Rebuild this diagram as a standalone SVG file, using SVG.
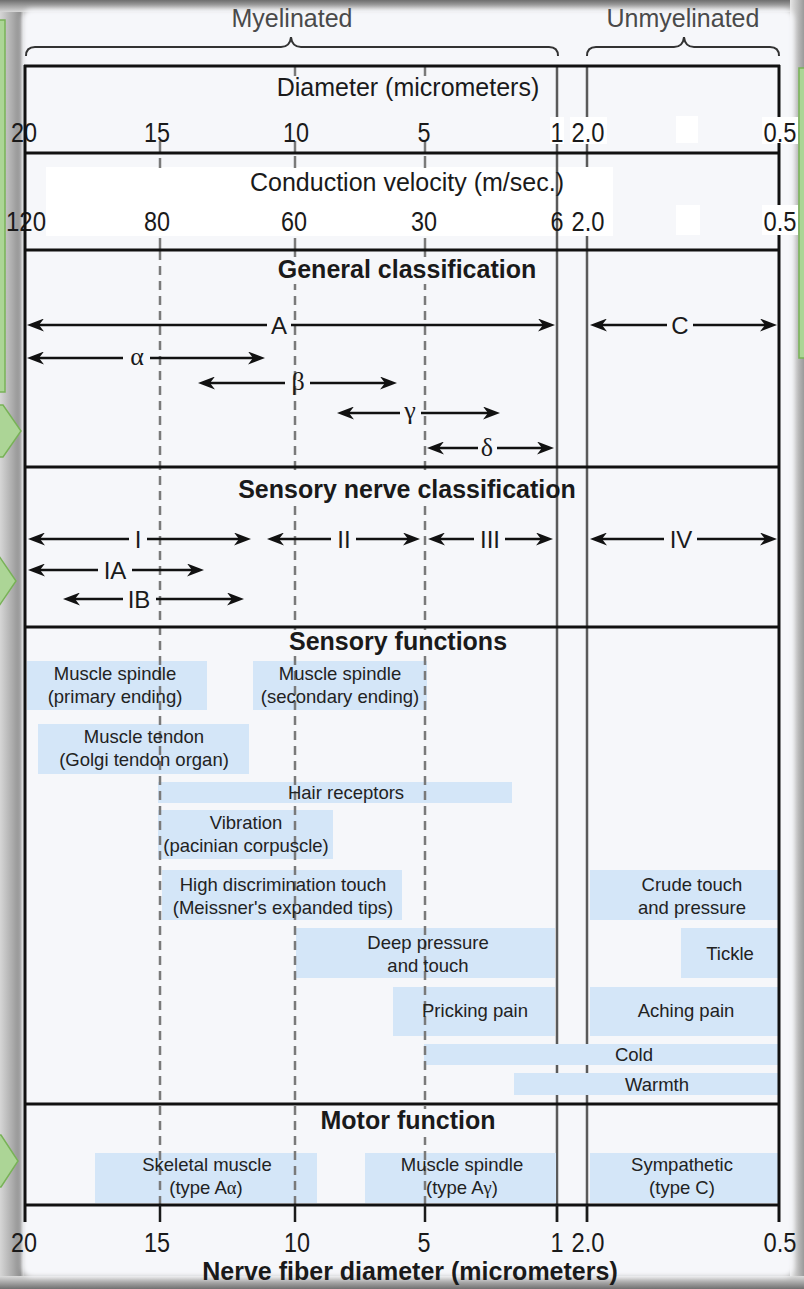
<svg xmlns="http://www.w3.org/2000/svg" width="804" height="1289" viewBox="0 0 804 1289">
<defs>
<style>
.t{font-family:"Liberation Sans",Arial,sans-serif;fill:#1a1a1a}
.num{font-size:28px;text-anchor:middle}
.hd{font-size:25px;text-anchor:middle}
.my{font-size:25px;text-anchor:middle;fill:#4a4a4a}
.ttl{font-size:25px;font-weight:bold;text-anchor:middle}
.lab{font-size:24px;text-anchor:middle}
.gr{font-family:"Liberation Serif","DejaVu Serif",serif;font-size:26px;text-anchor:middle;fill:#1a1a1a}
.bt{font-size:18.5px;text-anchor:middle;fill:#222}
.box{fill:#d4e6f8}
.frm{stroke:#111;stroke-width:3;fill:none}
.sol{stroke:#5a5a5a;stroke-width:2.5}
.dsh{stroke:#7a7a7a;stroke-width:2.5;stroke-dasharray:9 6}
.tk{stroke:#7a7a7a;stroke-width:2.5}
.btk{stroke:#1a1a1a;stroke-width:2.5}
.arr{stroke:#111;stroke-width:2.5;fill:none;marker-end:url(#ah)}
.wb{fill:#fff}
.bg{fill:#f6f7fa}
.grn{fill:#acd596;stroke:#78b257;stroke-width:1.5}
.brace{fill:none;stroke:#333;stroke-width:2}
</style>
<marker id="ah" viewBox="0 0 17 13" refX="9" refY="6.5" markerWidth="17" markerHeight="13" orient="auto" markerUnits="userSpaceOnUse"><path d="M0,0 L17,6.5 L0,13 L5,6.5 Z" fill="#111"/></marker>
<linearGradient id="gL" x1="0" y1="0" x2="1" y2="0"><stop offset="0" stop-color="#d6d6d6"/><stop offset="0.55" stop-color="#a9a9a9"/><stop offset="0.85" stop-color="#8e8e8e"/><stop offset="1" stop-color="#c8c8c8"/></linearGradient>
<linearGradient id="gR" x1="0" y1="0" x2="1" y2="0"><stop offset="0" stop-color="#e6e6e6"/><stop offset="1" stop-color="#9a9a9a"/></linearGradient>
<linearGradient id="gT" x1="0" y1="0" x2="0" y2="1"><stop offset="0" stop-color="#6e6e6e"/><stop offset="1" stop-color="#d8d8d8"/></linearGradient>
<linearGradient id="gB" x1="0" y1="0" x2="0" y2="1"><stop offset="0" stop-color="#dcdcdc"/><stop offset="1" stop-color="#707070"/></linearGradient>
<filter id="soft" x="-5%" y="-5%" width="110%" height="110%"><feGaussianBlur stdDeviation="2.5"/></filter>
</defs>

<g id="background">
<rect width="804" height="1289" fill="#b4b4b4"/>
<rect x="0" y="0" width="24" height="1289" fill="url(#gL)"/>
<rect x="0" y="0" width="804" height="12" fill="url(#gT)"/>
<rect x="790" y="0" width="14" height="1289" fill="url(#gR)"/>
<rect x="0" y="1276" width="804" height="13" fill="url(#gB)"/>
<rect x="22" y="9" width="772" height="1268" rx="10" fill="#f6f7fa" filter="url(#soft)"/>
</g>

<g id="decor">
<rect class="grn" x="-10" y="20" width="15" height="372"/>
<rect class="grn" x="799" y="68" width="15" height="290"/>
<polygon class="grn" points="-10,405 3,405 21,431 3,457 -10,457"/>
<polygon class="grn" points="-10,556 -1,556 16,581 -1,606 -10,606"/>
<polygon class="grn" points="-10,1135 1,1135 18,1161 1,1187 -10,1187"/>
</g>

<g id="header">
<path class="brace" d="M26,56 Q26,47 35,47 L281,47 Q290,47 291,37 Q292,47 301,47 L549,47 Q558,47 558,56"/>
<path class="brace" d="M587,56 Q587,47 596,47 L674,47 Q683,47 684,37 Q685,47 694,47 L770,47 Q779,47 779,56"/>
<text class="t my" x="292" y="27">Myelinated</text>
<text class="t my" x="683" y="27">Unmyelinated</text>
</g>

<g id="white-patches">
<rect class="wb" x="46" y="167" width="567" height="69"/>
<rect class="wb" x="676" y="116" width="22" height="27"/>
<rect class="wb" x="676" y="205" width="24" height="30"/>
</g>

<g id="gridlines">
<line class="sol" x1="557" y1="65" x2="557" y2="1222"/>
<line class="sol" x1="587" y1="65" x2="587" y2="1222"/>
<rect class="wb" x="567" y="167" width="46" height="69"/>
<rect class="wb" x="550" y="117" width="14" height="27"/>
<rect class="wb" x="570" y="117" width="37" height="27"/>
<rect class="wb" x="762" y="117" width="36" height="27"/>
<rect class="wb" x="762" y="205" width="36" height="30"/>
</g>

<g id="node-muscle-spindle-primary"><rect class="box" x="27" y="661" width="180" height="49"/></g>
<g id="node-muscle-spindle-secondary"><rect class="box" x="253" y="661" width="174" height="49"/></g>
<g id="node-muscle-tendon"><rect class="box" x="38" y="724" width="211" height="50"/></g>
<g id="node-hair-receptors"><rect class="box" x="158" y="782" width="354" height="21"/></g>
<g id="node-vibration"><rect class="box" x="158" y="810" width="175" height="49"/></g>
<g id="node-high-discrimination"><rect class="box" x="162" y="870" width="240" height="50"/></g>
<g id="node-deep-pressure"><rect class="box" x="296" y="928" width="259" height="50"/></g>
<g id="node-pricking-pain"><rect class="box" x="393" y="987" width="162" height="49"/></g>
<g id="node-cold"><rect class="box" x="424" y="1044" width="354" height="21"/></g>
<g id="node-warmth"><rect class="box" x="514" y="1073" width="264" height="22"/></g>
<g id="node-crude-touch"><rect class="box" x="590" y="870" width="188" height="50"/></g>
<g id="node-tickle"><rect class="box" x="681" y="928" width="97" height="50"/></g>
<g id="node-aching-pain"><rect class="box" x="590" y="987" width="188" height="49"/></g>
<g id="node-skeletal-muscle"><rect class="box" x="95" y="1153" width="222" height="50"/></g>
<g id="node-motor-spindle"><rect class="box" x="365" y="1153" width="191" height="50"/></g>
<g id="node-sympathetic"><rect class="box" x="590" y="1153" width="188" height="50"/></g>

<g id="dashed">
<line class="dsh" x1="160" y1="251" x2="160" y2="1204"/>
<line class="dsh" x1="295" y1="251" x2="295" y2="1204"/>
<line class="dsh" x1="425" y1="251" x2="425" y2="1204"/>
<line class="tk" x1="295" y1="67" x2="295" y2="76"/>
<line class="tk" x1="425" y1="67" x2="425" y2="76"/>
<line class="tk" x1="160" y1="141" x2="160" y2="153"/>
<line class="tk" x1="295" y1="141" x2="295" y2="153"/>
<line class="tk" x1="425" y1="141" x2="425" y2="153"/>
<line class="tk" x1="160" y1="158" x2="160" y2="168"/>
<line class="tk" x1="295" y1="156" x2="295" y2="168"/>
<line class="tk" x1="425" y1="156" x2="425" y2="168"/>
<line class="tk" x1="160" y1="238" x2="160" y2="250"/>
<line class="tk" x1="295" y1="238" x2="295" y2="250"/>
<line class="tk" x1="425" y1="238" x2="425" y2="250"/>
<rect class="bg" x="289" y="257" width="12" height="27"/>
<rect class="bg" x="419" y="257" width="12" height="27"/>
<rect class="bg" x="289" y="476" width="12" height="28"/>
<rect class="bg" x="419" y="476" width="12" height="28"/>
<rect class="bg" x="289" y="630" width="12" height="26"/>
<rect class="bg" x="419" y="630" width="12" height="26"/>
<rect class="bg" x="419" y="1109" width="12" height="28"/>
</g>

<g id="scale-texts">
<text class="t hd" x="408" y="96">Diameter (micrometers)</text>
<text class="t num" x="24" y="142" textLength="26" lengthAdjust="spacingAndGlyphs">20</text>
<text class="t num" x="157" y="142" textLength="26" lengthAdjust="spacingAndGlyphs">15</text>
<text class="t num" x="296" y="142" textLength="26" lengthAdjust="spacingAndGlyphs">10</text>
<text class="t num" x="424" y="142" textLength="13" lengthAdjust="spacingAndGlyphs">5</text>
<text class="t num" x="557" y="142" textLength="13" lengthAdjust="spacingAndGlyphs">1</text>
<text class="t num" x="588" y="142" textLength="33" lengthAdjust="spacingAndGlyphs">2.0</text>
<text class="t num" x="780" y="142" textLength="33" lengthAdjust="spacingAndGlyphs">0.5</text>
<text class="t hd" x="407" y="191">Conduction velocity (m/sec.)</text>
<text class="t num" x="26" y="231" textLength="40" lengthAdjust="spacingAndGlyphs">120</text>
<text class="t num" x="157" y="231" textLength="26" lengthAdjust="spacingAndGlyphs">80</text>
<text class="t num" x="294" y="231" textLength="26" lengthAdjust="spacingAndGlyphs">60</text>
<text class="t num" x="424" y="231" textLength="26" lengthAdjust="spacingAndGlyphs">30</text>
<text class="t num" x="557" y="231" textLength="13" lengthAdjust="spacingAndGlyphs">6</text>
<text class="t num" x="588" y="231" textLength="33" lengthAdjust="spacingAndGlyphs">2.0</text>
<text class="t num" x="780" y="231" textLength="33" lengthAdjust="spacingAndGlyphs">0.5</text>
</g>

<g id="titles">
<text class="t ttl" x="407" y="278">General classification</text>
<text class="t ttl" x="407" y="498">Sensory nerve classification</text>
<text class="t ttl" x="398" y="650">Sensory functions</text>
<text class="t ttl" x="408" y="1129">Motor function</text>
</g>

<g id="connectors">
<path class="arr" d="M267,325 L35,325"/><path class="arr" d="M291,325 L547,325"/>
<path class="arr" d="M123,358 L35,358"/><path class="arr" d="M150,358 L257,358"/>
<path class="arr" d="M285,383 L206,383"/><path class="arr" d="M310,383 L389,383"/>
<path class="arr" d="M400,413 L345,413"/><path class="arr" d="M421,413 L492,413"/>
<path class="arr" d="M478,448 L435,448"/><path class="arr" d="M497,448 L546,448"/>
<path class="arr" d="M667,325 L598,325"/><path class="arr" d="M693,325 L769,325"/>
<path class="arr" d="M129,539 L36,539"/><path class="arr" d="M147,539 L243,539"/>
<path class="arr" d="M331,539 L275,539"/><path class="arr" d="M356,539 L412,539"/>
<path class="arr" d="M474,539 L436,539"/><path class="arr" d="M505,539 L545,539"/>
<path class="arr" d="M664,539 L598,539"/><path class="arr" d="M697,539 L769,539"/>
<path class="arr" d="M98,570 L36,570"/><path class="arr" d="M132,570 L196,570"/>
<path class="arr" d="M123,599 L71,599"/><path class="arr" d="M156,599 L236,599"/>
</g>

<g id="arrow-labels">
<text class="t lab" x="279" y="334">A</text>
<text class="gr" x="137" y="365">α</text>
<text class="gr" x="298" y="390">β</text>
<text class="gr" x="410" y="419">γ</text>
<text class="gr" x="487" y="456">δ</text>
<text class="t lab" x="680" y="334">C</text>
<text class="t lab" x="138" y="548">I</text>
<text class="t lab" x="344" y="548">II</text>
<text class="t lab" x="490" y="548">III</text>
<text class="t lab" x="681" y="548">IV</text>
<text class="t lab" x="115" y="579">IA</text>
<text class="t lab" x="139" y="608">IB</text>
</g>

<g id="box-texts">
<text class="t bt" x="115" y="680">Muscle spindle</text>
<text class="t bt" x="115" y="703">(primary ending)</text>
<text class="t bt" x="340" y="680">Muscle spindle</text>
<text class="t bt" x="340" y="703">(secondary ending)</text>
<text class="t bt" x="144" y="743">Muscle tendon</text>
<text class="t bt" x="144" y="766">(Golgi tendon organ)</text>
<text class="t bt" x="346" y="799">Hair receptors</text>
<text class="t bt" x="246" y="829">Vibration</text>
<text class="t bt" x="246" y="852">(pacinian corpuscle)</text>
<text class="t bt" x="283" y="891">High discrimination touch</text>
<text class="t bt" x="283" y="914">(Meissner's expanded tips)</text>
<text class="t bt" x="428" y="949">Deep pressure</text>
<text class="t bt" x="428" y="972">and touch</text>
<text class="t bt" x="475" y="1017">Pricking pain</text>
<text class="t bt" x="634" y="1061">Cold</text>
<text class="t bt" x="657" y="1091">Warmth</text>
<text class="t bt" x="692" y="891">Crude touch</text>
<text class="t bt" x="692" y="914">and pressure</text>
<text class="t bt" x="730" y="960">Tickle</text>
<text class="t bt" x="686" y="1017">Aching pain</text>
<text class="t bt" x="207" y="1171">Skeletal muscle</text>
<text class="t bt" x="206" y="1194">(type A<tspan font-family="Liberation Serif, serif">α</tspan>)</text>
<text class="t bt" x="462" y="1171">Muscle spindle</text>
<text class="t bt" x="462" y="1194">(type A<tspan font-family="Liberation Serif, serif">γ</tspan>)</text>
<text class="t bt" x="682" y="1171">Sympathetic</text>
<text class="t bt" x="682" y="1194">(type C)</text>
</g>

<g id="frame">
<line class="frm" x1="25" y1="65" x2="25" y2="1222"/>
<line class="frm" x1="779" y1="65" x2="779" y2="117"/>
<line class="frm" x1="779" y1="143" x2="779" y2="205"/>
<line class="frm" x1="779" y1="235" x2="779" y2="1222"/>
<line class="frm" x1="24" y1="66" x2="780" y2="66"/>
<line class="frm" x1="24" y1="153" x2="780" y2="153"/>
<line class="frm" x1="24" y1="250" x2="780" y2="250"/>
<line class="frm" x1="24" y1="467" x2="780" y2="467"/>
<line class="frm" x1="24" y1="627" x2="780" y2="627"/>
<line class="frm" x1="24" y1="1104" x2="780" y2="1104"/>
<line class="frm" x1="24" y1="1205" x2="780" y2="1205"/>
<line class="btk" x1="160" y1="1205" x2="160" y2="1222"/>
<line class="btk" x1="295" y1="1205" x2="295" y2="1222"/>
<line class="btk" x1="425" y1="1205" x2="425" y2="1222"/>
<line class="btk" x1="557" y1="1205" x2="557" y2="1222"/>
<line class="btk" x1="587" y1="1205" x2="587" y2="1222"/>
</g>

<g id="axis">
<text class="t num" x="24" y="1252" textLength="26" lengthAdjust="spacingAndGlyphs">20</text>
<text class="t num" x="157" y="1252" textLength="26" lengthAdjust="spacingAndGlyphs">15</text>
<text class="t num" x="297" y="1252" textLength="26" lengthAdjust="spacingAndGlyphs">10</text>
<text class="t num" x="424" y="1252" textLength="13" lengthAdjust="spacingAndGlyphs">5</text>
<text class="t num" x="557" y="1252" textLength="13" lengthAdjust="spacingAndGlyphs">1</text>
<text class="t num" x="588" y="1252" textLength="33" lengthAdjust="spacingAndGlyphs">2.0</text>
<text class="t num" x="780" y="1252" textLength="33" lengthAdjust="spacingAndGlyphs">0.5</text>
<text class="t ttl" x="410" y="1280" fill="#333">Nerve fiber diameter (micrometers)</text>
</g>
</svg>
